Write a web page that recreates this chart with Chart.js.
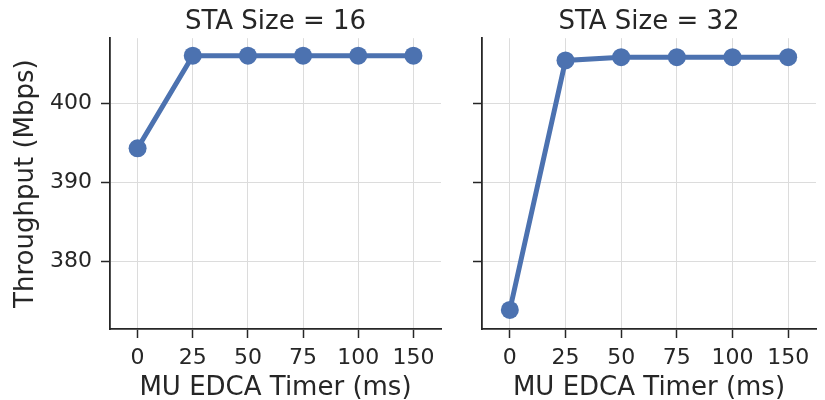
<!DOCTYPE html>
<html>
<head>
<meta charset="utf-8">
<script src="https://cdn.jsdelivr.net/npm/chart.js@4.4.0/dist/chart.umd.min.js"></script>
<style>
  html, body { margin: 0; padding: 0; background: #ffffff; }
  #wrap { position: relative; width: 825px; height: 400px; overflow: hidden; }
  canvas { position: absolute; top: 0; }
</style>
</head>
<body>
<div id="wrap">
  <canvas id="c16" width="450" height="400" style="left:0px"></canvas>
  <canvas id="c32" width="375" height="400" style="left:450px"></canvas>
</div>
<script>
// ---- data ----
const timers = ['0', '25', '50', '75', '100', '150'];
const sta16 = [394.3, 406.0, 406.0, 406.0, 406.0, 406.0];
const sta32 = [373.9, 405.4, 405.8, 405.8, 405.8, 405.8];
const yTicks = [380, 390, 400];
const panelTitles = ['STA Size = 16', 'STA Size = 32'];
const xTitle = 'MU EDCA Timer (ms)';
const yTitle = 'Throughput (Mbps)';
const yMin = 371.5, yMax = 408.2;

const FONT = 'DejaVu Sans';
const TXT = '#262626';
const SPINE = '#262626';
const GRID = '#dcdcdc';
const BLUE = '#4C72B0';

function makeChart(id, title, values, showYLabels, yAxisWidth, padRight) {
  return new Chart(document.getElementById(id), {
    type: 'line',
    data: {
      labels: timers,
      datasets: [{
        data: values,
        borderColor: BLUE,
        backgroundColor: BLUE,
        borderWidth: 5,
        pointRadius: 9,
        pointHoverRadius: 9,
        pointBackgroundColor: BLUE,
        pointBorderWidth: 0,
        tension: 0
      }]
    },
    options: {
      responsive: false,
      animation: false,
      devicePixelRatio: 1,
      layout: { padding: { left: 0, right: padRight, top: 0, bottom: 0 } },
      plugins: {
        legend: { display: false },
        tooltip: { enabled: false },
        title: {
          display: true,
          fullSize: false,
          text: title,
          color: TXT,
          font: { family: FONT, size: 26, weight: 'normal', lineHeight: 1.2 },
          padding: { top: 7, bottom: 0 }
        }
      },
      scales: {
        x: {
          type: 'category',
          offset: true,
          grid: {
            offset: false,
            color: GRID,
            lineWidth: 1,
            drawTicks: true,
            tickLength: 9,
            tickColor: SPINE,
            tickWidth: 1.5
          },
          border: { display: true, color: SPINE, width: 1.8 },
          ticks: {
            color: TXT,
            font: { family: FONT, size: 22 },
            padding: 7,
            maxRotation: 0,
            autoSkip: false
          },
          title: {
            display: true,
            text: xTitle,
            color: TXT,
            font: { family: FONT, size: 26, lineHeight: 1 },
            padding: { top: 0, bottom: -1 }
          },
          afterFit: (s) => { s.height = 71; }
        },
        y: {
          type: 'linear',
          min: yMin,
          max: yMax,
          afterBuildTicks: (s) => { s.ticks = yTicks.map(v => ({ value: v })); },
          grid: {
            color: GRID,
            lineWidth: 1,
            drawTicks: true,
            tickLength: 9,
            tickColor: SPINE,
            tickWidth: 1.5
          },
          border: { display: true, color: SPINE, width: 1.8 },
          ticks: {
            display: true,
            color: TXT,
            font: { family: FONT, size: 22 },
            padding: 9,
            callback: (v) => showYLabels ? String(v) : ''
          },
          title: {
            display: showYLabels,
            text: yTitle,
            color: TXT,
            font: { family: FONT, size: 26, lineHeight: 1.2 },
            padding: { top: 11, bottom: 0 }
          },
          afterFit: (s) => { s.width = yAxisWidth; }
        }
      }
    }
  });
}

makeChart('c16', panelTitles[0], sta16, true, 110, 1);
makeChart('c32', panelTitles[1], sta32, false, 32, 3);
</script>
</body>
</html>
